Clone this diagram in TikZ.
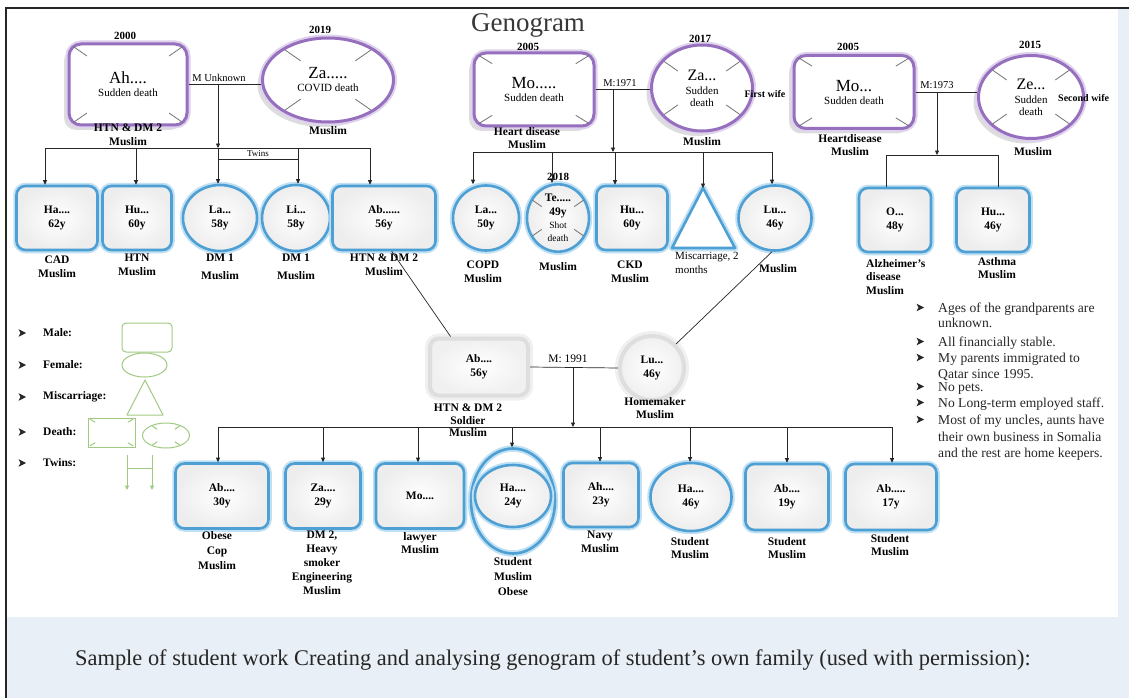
\documentclass[tikz,border=0pt]{standalone}
\usepackage{fontspec}
\setmainfont{Liberation Serif}
\usetikzlibrary{shapes.geometric,arrows.meta,calc,shadows}
\definecolor{gpcol}{RGB}{150,112,190}
\definecolor{gpglow}{RGB}{222,210,236}
\definecolor{kidblue}{RGB}{78,160,212}
\definecolor{kidglow}{RGB}{192,224,243}
\definecolor{leg}{RGB}{160,202,130}
\definecolor{capbg}{RGB}{233,239,246}
\newcommand\gpname{\fontsize{17}{19}\selectfont}
\newcommand\gpsub{\fontsize{11}{13}\selectfont}
\newcommand\labf{\bfseries\fontsize{11.5}{13.5}\selectfont}
\newcommand\kidf{\bfseries\fontsize{11.5}{14}\selectfont}
\newcommand\xrect[2]{\foreach \cn in {north east,north west,south east,south west}{\draw[#2] ($(#1.center)!0.68!(#1.\cn)$) -- ($(#1.center)!0.9!(#1.\cn)$);}}
\newcommand\xell[2]{\foreach \ang in {35,145,215,325}{\draw[#2] ($(#1.center)!0.6!(#1.\ang)$) -- ($(#1.center)!0.94!(#1.\ang)$);}}
\begin{document}
\begin{tikzpicture}[x=1pt,y=-1pt,
 ln/.style={draw=black!85,line width=0.7pt},
 arr/.style={-{Triangle[length=4.5pt,width=4pt]}},
 dln/.style={draw=black!55,line width=0.8pt},
 bulp/.pic={\fill[black!85] (-3.5,-3.8) -- (4,0) -- (-3.5,3.8) -- (-1.5,0) -- cycle;},
 gpbase/.style={draw=gpcol,line width=3pt,fill=white,inner sep=0pt,align=center,
   drop shadow={shadow xshift=-5pt,shadow yshift=-5pt,opacity=0.22,fill=black!60},
   preaction={draw=gpglow,line width=7pt}},
 gpbox/.style={gpbase,rectangle,rounded corners=12pt},
 gpell/.style={gpbase,ellipse},
 kid/.style={draw=kidblue,line width=2.6pt,inner sep=0pt,align=center,font=\kidf,
   preaction={draw=kidglow,line width=6.5pt},inner color=white,outer color=black!7},
 kidbox/.style={kid,rectangle,rounded corners=9pt},
 kidell/.style={kid,ellipse},
 par/.style={inner color=white,outer color=black!6,draw=black!13,line width=4pt,inner sep=0pt,align=center,font=\kidf,
   preaction={draw=black!6,line width=10pt}},
 labn/.style={anchor=north,align=center,font=\labf,inner sep=0pt},
 yr/.style={font=\bfseries\fontsize{11}{12}\selectfont,inner sep=0pt},
 mlab/.style={font=\fontsize{10.5}{12}\selectfont,inner sep=0pt},
 legln/.style={draw=leg,line width=1pt},
 legtxt/.style={anchor=west,font=\bfseries\fontsize{11.5}{13}\selectfont,inner sep=0pt},
 note/.style={anchor=base west,font=\fontsize{13.6}{15}\selectfont,inner sep=0pt,text=black!85}]
\useasboundingbox (0,0) rectangle (1129,698);
% background
\fill[capbg] (0,0) rectangle (1129,698);
\fill[white] (0,0) rectangle (1129,8);
\fill[white] (0,0) rectangle (6,698);
\fill[white] (6,8) rectangle (1118,617);
\draw[black!85,line width=1.2pt] (6,698) -- (6,8) -- (1129,8);
% title
\node[font=\fontsize{27}{30}\selectfont,text=black!78,inner sep=0pt] (title) at (528,25) {Genogram};

% ---------- grandparents family 1
\node[gpbox,minimum width=118pt,minimum height=81pt] (gA) at (128,84.5) {{\gpname Ah....}\\[1pt]{\gpsub Sudden death}};
\node[gpell,minimum width=131pt,minimum height=84pt] (gZ) at (328,80) {{\gpname Za.....}\\[1pt]{\gpsub COVID death}};
\xrect{gA}{dln}
\xell{gZ}{dln}
\node[yr] (yA) at (125,36) {2000};
\node[yr] (yZ) at (320,30) {2019};
\node[labn] (lA) at (128,124) {HTN \& DM 2\\Muslim};
\node[labn] (lZ) at (328,126) {Muslim};
\draw[ln] (gA.east) -- (gA.east -| gZ.west);
\node[mlab] (mA) at (219,78) {M Unknown};
\coordinate (m1) at (218,84.5);
\coordinate (s1) at (218,148);
\draw[ln,arr] (m1) -- (s1);
\draw[ln] (45,148) -- (370,148);
% children family 1
\node[kidbox,minimum width=81pt,minimum height=64pt] (cHa) at (57,218) {Ha....\\62y};
\node[kidbox,minimum width=69pt,minimum height=64pt] (cHu) at (137,218) {Hu...\\60y};
\node[kidell,minimum width=74pt,minimum height=66pt] (cLa) at (220,218) {La...\\58y};
\node[kidell,minimum width=68pt,minimum height=66pt] (cLi) at (296,218) {Li...\\58y};
\node[kidbox,minimum width=103pt,minimum height=64pt] (cAb) at (384,218) {Ab......\\56y};
\draw[ln,arr] (45,148) -- (45,148 |- cHa.north);
\draw[ln,arr] (136,148) -- (136,148 |- cHu.north);
\draw[ln,arr] (218,148) -- (218,148 |- cLa.north);
\draw[ln,arr] (298,148) -- (298,148 |- cLi.north);
\draw[ln,arr] (370,148) -- (370,148 |- cAb.north);
\draw[ln] (218,159) -- (298,159);
\node[font=\fontsize{9}{10}\selectfont,inner sep=0pt] (tw) at (258,153.5) {Twins};
\node[labn] at (57,256) {CAD\\Muslim};
\node[labn] at (137,254) {HTN\\Muslim};
\node[labn] at (220,254) {DM 1\\[4pt]Muslim};
\node[labn] at (296,254) {DM 1\\[4pt]Muslim};
\node[labn] at (384,254) {HTN \& DM 2\\Muslim};

% ---------- grandparents family 2
\node[gpbox,minimum width=120pt,minimum height=73pt] (gM1) at (534,89.5) {{\gpname Mo.....}\\[1pt]{\gpsub Sudden death}};
\node[gpell,minimum width=101pt,minimum height=86pt] (gZ2) at (702,88) {{\fontsize{16}{18}\selectfont Za...}\\[2pt]{\gpsub Sudden}\\{\gpsub death}};
\xrect{gM1}{dln}
\xell{gZ2}{dln}
\node[yr] at (528,47) {2005};
\node[yr] at (700,39) {2017};
\node[labn] at (527,127) {Heart disease\\Muslim};
\node[labn] at (702,137) {Muslim};
\node[font=\bfseries\fontsize{10}{11}\selectfont,inner sep=0pt] at (765,94) {First wife};
\draw[ln] (gM1.east) -- (gM1.east -| gZ2.west);
\node[mlab] at (620,83) {M:1971};
\coordinate (m2) at (613,89.5);
\coordinate (s2) at (613,152);
\draw[ln,arr] (m2) -- (s2);
\draw[ln] (473,152) -- (772,152);
% children family 2
\node[kidell,minimum width=66pt,minimum height=65pt] (cLa2) at (486,218) {La...\\50y};
\node[kidell,minimum width=62pt,minimum height=64pt] (cTe) at (558,218) {Te.....\\49y\\[-1pt]{\mdseries\fontsize{9.5}{10}\selectfont Shot}\\[-1pt]{\mdseries\fontsize{9.5}{10}\selectfont death}};
\xell{cTe}{dln}
\node[kidbox,minimum width=71pt,minimum height=64pt] (cHu2) at (632,218) {Hu...\\60y};
\coordinate (misA) at (703,188);
\coordinate (misL) at (672,248);
\coordinate (misR) at (735,248);
\draw[draw=kidglow,line width=6.5pt,line join=round] (misA) -- (misR) -- (misL) -- cycle;
\draw[draw=kidblue,line width=2.6pt,fill=white,line join=round] (misA) -- (misR) -- (misL) -- cycle;
\node[kidell,minimum width=73pt,minimum height=65pt] (cLu) at (775,218) {Lu...\\46y};
\draw[ln,arr] (473,152) -- (473,152 |- cLa2.north);
\draw[ln,arr] (552,152) -- (552,152 |- cTe.north);
\draw[ln,arr] (615,152) -- (615,152 |- cHu2.north);
\draw[ln,arr] (703,152) -- (misA);
\draw[ln,arr] (772,152) -- (772,152 |- cLu.north);
\node[yr] at (558,177) {2018};
\node[labn] at (483,261) {COPD\\Muslim};
\node[labn] at (558,262) {Muslim};
\node[labn] at (630,261) {CKD\\Muslim};
\node[anchor=north west,align=left,inner sep=0pt,font=\fontsize{11}{14}\selectfont] at (675,252) {Miscarriage, 2\\months};
\node[labn] at (778,264) {Muslim};

% ---------- grandparents family 3
\node[gpbox,minimum width=120pt,minimum height=73pt] (gM2) at (854,92) {{\gpname Mo...}\\[1pt]{\gpsub Sudden death}};
\node[gpell,minimum width=105pt,minimum height=83pt] (gZe) at (1031,97) {{\fontsize{16}{18}\selectfont Ze...}\\[2pt]{\gpsub Sudden}\\{\gpsub death}};
\xrect{gM2}{dln}
\xell{gZe}{dln}
\node[yr] at (848,47) {2005};
\node[yr] at (1030,45) {2015};
\node[labn] at (850,134) {Heartdisease\\Muslim};
\node[labn] at (1033,147) {Muslim};
\node[anchor=west,font=\bfseries\fontsize{10}{11}\selectfont,inner sep=0pt] at (1058,98) {Second wife};
\draw[ln] (gM2.east) -- (gM2.east -| gZe.west);
\node[mlab] at (937,85) {M:1973};
\coordinate (m3) at (937,92);
\coordinate (s3) at (937,155);
\draw[ln,arr] (m3) -- (s3);
\draw[ln] (886,155) -- (998,155);
\node[kidbox,minimum width=72pt,minimum height=64pt] (cO) at (895,220) {O...\\48y};
\node[kidbox,minimum width=73pt,minimum height=64pt] (cHu3) at (993,220) {Hu...\\46y};
\draw[ln] (886,155) -- (886,155 |- cO.north);
\draw[ln] (998,155) -- (998,155 |- cHu3.north);
\node[anchor=north west,align=left,font=\labf,inner sep=0pt] at (866,259) {Alzheimer's\\disease\\Muslim};
\node[labn] at (997,257) {Asthma\\Muslim};

% ---------- parents
\node[par,rectangle,rounded corners=9pt,minimum width=98pt,minimum height=57pt] (pAb) at (479,367) {Ab....\\56y};
\node[par,circle,minimum size=64pt] (pLu) at (652,368) {Lu...\\46y};
\draw[ln] (cAb.-77) -- (pAb.133);
\draw[ln] (cLu.-95) -- (pLu.45);
\draw[ln] (pAb.east) -- (pLu.west);
\node[font=\fontsize{11.5}{13}\selectfont,inner sep=0pt] at (568,359) {M: 1991};
\coordinate (m4) at (573,367);
\coordinate (s4) at (573,427);
\draw[ln,arr] (m4) -- (s4);
\draw[ln] (218,427) -- (892,427);
\node[labn,font=\bfseries\fontsize{11.5}{12.5}\selectfont] at (468,404) {HTN \& DM 2\\Soldier\\Muslim};
\node[labn] at (655,397) {Homemaker\\Muslim};

% ---------- bottom children
\node[kidbox,minimum width=93pt,minimum height=65pt] (kAb) at (222,496) {Ab....\\30y};
\node[kidbox,minimum width=75pt,minimum height=65pt] (kZa) at (323,496) {Za....\\29y};
\node[kidbox,minimum width=88pt,minimum height=65pt] (kMo) at (420,496) {Mo....};
\node[draw=kidblue,line width=2.6pt,preaction={draw=kidglow,line width=6.5pt},ellipse,inner sep=0pt,minimum width=84pt,minimum height=105pt] (kHaO) at (513,501) {};
\node[kidell,minimum width=76pt,minimum height=62pt] (kHa) at (513,496) {Ha....\\24y};
\node[kidbox,minimum width=75pt,minimum height=64pt] (kAh) at (601,495) {Ah....\\23y};
\node[kidell,minimum width=81pt,minimum height=68pt] (kHa2) at (691,497) {Ha....\\46y};
\node[kidbox,minimum width=83pt,minimum height=66pt] (kAb2) at (787,497) {Ab....\\19y};
\node[kidbox,minimum width=91pt,minimum height=66pt] (kAb3) at (891,497) {Ab.....\\17y};
\draw[ln,arr] (218,427) -- (218,427 |- kAb.north);
\draw[ln,arr] (323,427) -- (323,427 |- kZa.north);
\draw[ln,arr] (418,427) -- (418,427 |- kMo.north);
\draw[ln,arr] (512,427) -- (512,427 |- kHaO.north);
\draw[ln,arr] (600,427) -- (600,427 |- kAh.north);
\draw[ln,arr] (690,427) -- (690,427 |- kHa2.north);
\draw[ln,arr] (787,427) -- (787,427 |- kAb2.north);
\draw[ln,arr] (892,427) -- (892,427 |- kAb3.north);
\node[labn,font=\bfseries\fontsize{11.5}{15}\selectfont] at (217,531) {Obese\\Cop\\Muslim};
\node[labn,font=\bfseries\fontsize{11.5}{14}\selectfont] at (322,531) {DM 2,\\Heavy\\smoker\\Engineering\\Muslim};
\node[labn] at (420,532) {lawyer\\Muslim};
\node[labn,font=\bfseries\fontsize{11.5}{15}\selectfont] at (513,557) {Student\\Muslim\\Obese};
\node[labn] at (600,531) {Navy\\Muslim};
\node[labn] at (690,537) {Student\\Muslim};
\node[labn] at (787,537) {Student\\Muslim};
\node[labn] at (890,534) {Student\\Muslim};

% ---------- legend
\foreach \yy/\tt in {333/Male:,365/Female:,397/Miscarriage:,432/Death:,463/Twins:}{
  \pic at (22,\yy) {bulp};
  \node[legtxt] at (43,\yy) {\tt};
}
\node[legln,rectangle,rounded corners=4pt,minimum width=50pt,minimum height=29pt,inner sep=0pt] (lgM) at (147,337.5) {};
\node[legln,ellipse,minimum width=45pt,minimum height=24pt,inner sep=0pt] (lgF) at (144.5,365) {};
\draw[legln,line join=round] (145,380) -- (163,415) -- (127,415) -- cycle;
\node[legln,rectangle,minimum width=47pt,minimum height=29pt,inner sep=0pt] (lgD) at (111.5,432.5) {};
\node[legln,ellipse,minimum width=47pt,minimum height=25pt,inner sep=0pt] (lgD2) at (166,435.5) {};
\xrect{lgD}{legln}
\xell{lgD2}{legln}
\draw[legln,arr] (127,455) -- (127,490);
\draw[legln,arr] (152,455) -- (152,490);
\draw[legln] (127,468) -- (152,468);

% ---------- notes
\foreach \yy in {312,346,362,391,407,424}{\pic at (920,\yy-4.5) {bulp};}
\node[note] at (938,312) {Ages of the grandparents are};
\node[note] at (938,327) {unknown.};
\node[note] at (938,346) {All financially stable.};
\node[note] at (938,362) {My parents immigrated to};
\node[note] at (938,378) {Qatar since 1995.};
\node[note] at (938,391) {No pets.};
\node[note] at (938,407) {No Long-term employed staff.};
\node[note] at (938,424) {Most of my uncles, aunts have};
\node[note] at (938,441) {their own business in Somalia};
\node[note] at (938,457) {and the rest are home keepers.};

% ---------- caption
\node[font=\fontsize{22.4}{26}\selectfont,text=black!85,inner sep=0pt] (cap) at (553,660) {Sample of student work Creating and analysing genogram of student’s own family (used with permission):};
\end{tikzpicture}
\end{document}
